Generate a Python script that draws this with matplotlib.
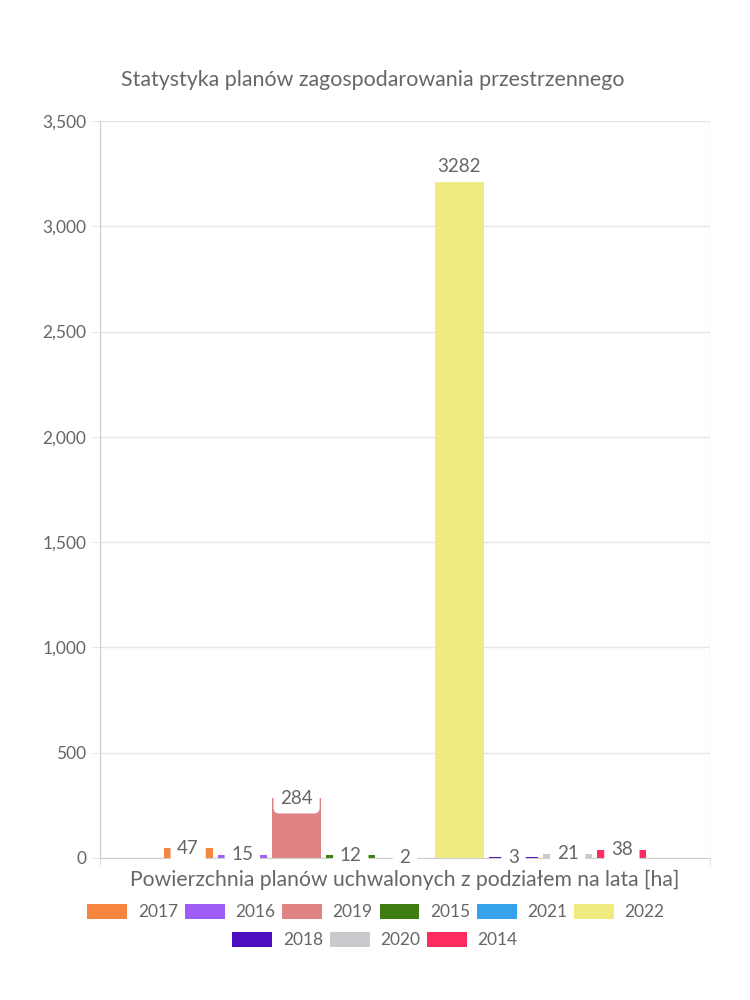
import matplotlib
matplotlib.use("Agg")
import matplotlib.pyplot as plt
from matplotlib.patches import Patch
from matplotlib.ticker import FuncFormatter

years = ['2017', '2016', '2019', '2015', '2021', '2022', '2018', '2020', '2014']
values = [47, 15, 284, 12, 2, 3282, 3, 21, 38]
colors = ['#F6853F', '#A05CF6', '#E08283', '#3F7D12', '#36A2EB',
          '#F0EB7F', '#4E0FC0', '#C9CACE', '#FF2D5F']
title = 'Statystyka planów zagospodarowania przestrzennego'
xlabel = 'Powierzchnia planów uchwalonych z podziałem na lata [ha]'
yticks = [0, 500, 1000, 1500, 2000, 2500, 3000, 3500]

plt.rcParams['font.family'] = ['Lato', 'DejaVu Sans']
TXT = '#666666'
GRID = '#e5e5e5'

fig = plt.figure(figsize=(7.5, 10), dpi=100)
ax = fig.add_axes([100/750, 1-858/1000, 610/750, 737/1000])

n = len(years)
slot = 0.8 / n
bw = slot * 0.9
for i, (y, v, c) in enumerate(zip(years, values, colors)):
    x = -0.4 + slot * (i + 0.5)
    ax.bar(x, v, width=bw, color=c, zorder=2, linewidth=0)
    ax.text(x, v, str(v), ha='center', va='center', fontsize=13.5, color=TXT, zorder=4,
            bbox=dict(boxstyle='round,pad=0.36,rounding_size=0.3', fc='white', ec='none'))

ax.set_xlim(-0.5, 0.5)
ax.set_ylim(0, 3500)
ax.set_yticks(yticks)
ax.yaxis.set_major_formatter(FuncFormatter(lambda v, p: f'{int(v):,}'))
ax.set_xticks([-0.5, 0.5])
ax.set_xticklabels(['', ''])
ax.grid(True, color=GRID, linewidth=1, zorder=0)
ax.tick_params(axis='y', length=8*0.72, color=GRID, labelcolor=TXT, labelsize=12.5, pad=4)
ax.tick_params(axis='x', length=8*0.72, color=GRID)
for s in ['top', 'right']:
    ax.spines[s].set_visible(False)
ax.spines['left'].set_color('#cfcfcf')
ax.spines['bottom'].set_color('#cfcfcf')

fig.text(373/750, 1-80/1000, title, ha='center', va='center', fontsize=15.4, color=TXT)
fig.text(405/750, 1-880/1000, xlabel, ha='center', va='center', fontsize=15.2, color=TXT)

def make_legend(idx, ycenter, xcenter):
    handles = [Patch(facecolor=colors[i], edgecolor='none') for i in idx]
    labels = [years[i] for i in idx]
    lg = fig.legend(handles, labels, loc='center', bbox_to_anchor=(xcenter/750, 1-ycenter/1000),
                    ncol=len(idx), frameon=False, fontsize=12.5, labelcolor=TXT,
                    handlelength=2.3, handleheight=0.95, handletextpad=0.6,
                    columnspacing=0.4, borderaxespad=0, borderpad=0)
    return lg

make_legend([0, 1, 2, 3, 4, 5], 912, 376)
make_legend([6, 7, 8], 940, 375)

fig.savefig('out.png', dpi=100, facecolor='white')
